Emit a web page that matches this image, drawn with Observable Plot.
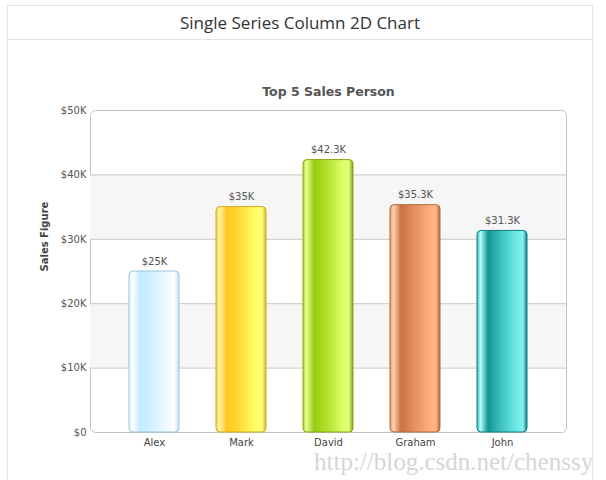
<!DOCTYPE html>
<html><head><meta charset="utf-8">
<script src="https://cdn.jsdelivr.net/npm/d3@7"></script>
<script src="https://cdn.jsdelivr.net/npm/@observablehq/plot@0.6"></script>
<style>
body{margin:0;background:#fff;width:606px;height:480px;overflow:hidden;position:relative;font-family:"DejaVu Sans",sans-serif}
#card{position:absolute;left:7px;top:5px;width:586px;height:520px;border:1px solid #e2e2e2;box-sizing:border-box}
#head{height:33px;border-bottom:1px solid #e2e2e2;text-align:center;font-family:"Open Sans",sans-serif;font-size:17px;line-height:34px;color:#333}
#chart{position:absolute;left:0;top:34px}
#wm{position:absolute;left:314px;top:448px;font-family:"Liberation Serif",serif;font-size:25px;color:#d6d6d6;white-space:nowrap}
</style></head>
<body>
<div id="card"><div id="head">Single Series Column 2D Chart</div><div id="chart"></div></div>
<div id="wm">http://blog.csdn.net/chenssy</div>
<script>
const names = ["Alex", "Mark", "David", "Graham", "John"];
const sales = [25000, 35000, 42300, 35300, 31300];
const valueLabels = ["$25K", "$35K", "$42.3K", "$35.3K", "$31.3K"];
const yTicks = [0, 10000, 20000, 30000, 40000, 50000];
const yTickLabels = ["$0", "$10K", "$20K", "$30K", "$40K", "$50K"];
const gridValues = [10000, 20000, 30000, 40000];
const bandFrom = [10000, 30000];
const bandTo = [20000, 40000];
const chartTitle = "Top 5 Sales Person";
const yTitle = "Sales Figure";

// styles (kept apart from data)
const gradientStops = [
  [["0","#dff4ff"],["0.07","#ffffff"],["0.22","#c4eaff"],["0.5","#d4f2ff"],["0.78","#f2fbff"],["0.9","#ffffff"],["1","#c6e4f2"]],
  [["0","#ffd640"],["0.07","#fff2a8"],["0.22","#ffc820"],["0.5","#ffdd3a"],["0.78","#ffff66"],["0.92","#ffff78"],["1","#d9b52a"]],
  [["0","#b0dc30"],["0.07","#e6ff96"],["0.22","#99cc10"],["0.5","#b6e030"],["0.78","#d8ff64"],["0.92","#e0ff78"],["1","#7fa010"]],
  [["0","#e49a66"],["0.07","#ffd2b4"],["0.22","#cc7040"],["0.5","#e69060"],["0.78","#ffac78"],["0.92","#ffb688"],["1","#a9653a"]],
  [["0","#38bcbc"],["0.07","#b4ffff"],["0.22","#109494"],["0.5","#40c4c4"],["0.78","#6ee8e4"],["0.92","#84f2f2"],["1","#147e7e"]]
];
const borderColors = ["#9cc4da", "#d2aa22", "#86a812", "#b06a40", "#127e7e"];

const data = names.map((n, i) => ({name: n, sales: sales[i], label: valueLabels[i], i}));
const bands = bandFrom.map((v, i) => ({y1: v, y2: bandTo[i]}));
const tickLabel = new Map(yTicks.map((v, i) => [v, yTickLabels[i]]));

const plot = Plot.plot({
  width: 584,
  height: 440,
  marginLeft: 82,
  marginRight: 26,
  marginTop: 70,
  marginBottom: 48,
  style: {fontFamily: "DejaVu Sans, sans-serif", fontSize: "10px", color: "#555", background: "transparent", overflow: "visible"},
  x: {domain: names, padding: 0.43, label: null},
  y: {domain: [0, 50000], label: null},
  color: {type: "identity"},
  marks: [
    Plot.frame({fill: "#fff", stroke: "#c4c4c4", rx: 5, ariaLabel: "plotframe"}),
    Plot.rect(bands, {y1: "y1", y2: "y2", fill: "#f6f6f6"}),
    Plot.ruleY(gridValues, {stroke: "#c8c8c8", strokeWidth: 1}),
    Plot.axisY({ticks: yTicks, tickSize: 0, tickPadding: 4, tickFormat: d => tickLabel.get(d), fill: "#555", fontSize: 10}),
    Plot.axisX({tickSize: 0, tickPadding: 6, fill: "#444", fontSize: 10}),
    Plot.barY(data, {x: "name", y: "sales", fill: d => `url(#grad${d.i})`, stroke: d => borderColors[d.i], strokeWidth: 1, rx: 4, ariaLabel: "columns"}),
    Plot.text(data, {x: "name", y: "sales", text: "label", dy: -10, fill: "#555", fontSize: 10}),
    Plot.text([chartTitle], {frameAnchor: "top", dy: -23, fontWeight: "bold", fontSize: 12.5, fill: "#555"}),
    Plot.text([yTitle], {frameAnchor: "left", dx: -46, rotate: -90, fontWeight: "bold", fontSize: 10, fill: "#444"})
  ]
});

const svg = d3.select(plot);
const defs = svg.insert("defs", ":first-child");
gradientStops.forEach((stops, i) => {
  const g = defs.append("linearGradient").attr("id", `grad${i}`).attr("x1", "0").attr("x2", "1").attr("y1", "0").attr("y2", "0");
  stops.forEach(([o, c]) => g.append("stop").attr("offset", o).attr("stop-color", c));
});
svg.select('g[aria-label="plotframe"]').style("filter", "drop-shadow(2px 2px 2px rgba(0,0,0,0.28))");
svg.select('g[aria-label="columns"]').style("filter", "drop-shadow(2px 1px 1.5px rgba(0,0,0,0.25))");
document.getElementById("chart").appendChild(plot);
</script>
</body></html>
